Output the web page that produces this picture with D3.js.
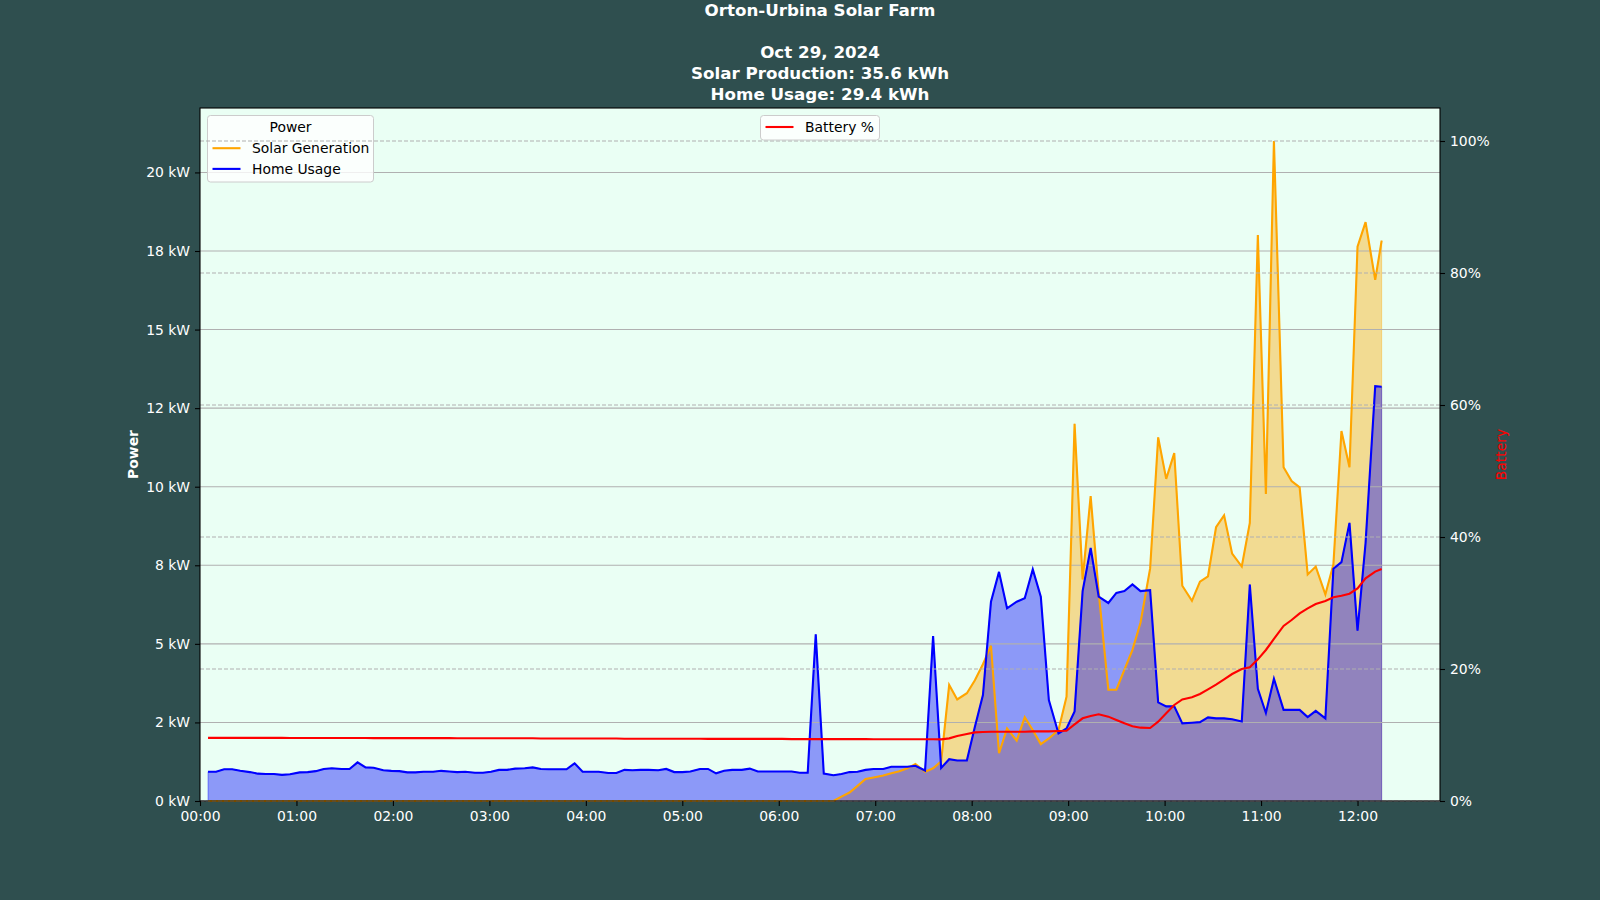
<!DOCTYPE html>
<html>
<head>
<meta charset="utf-8">
<script src="https://cdn.jsdelivr.net/npm/d3@7"></script>
<style>
  body { margin: 0; background: #2f4f4f; }
  text { font-family: "DejaVu Sans", sans-serif; }
</style>
</head>
<body>
<div id="chart"></div>
<script>
// minutes after midnight of each reading
var minutes = [5,10,15,20,25,31,36,41,46,51,56,62,67,72,77,82,88,93,98,103,
  108,114,119,124,129,134,139,145,150,155,160,165,171,176,181,186,191,196,202,207,
  212,217,222,228,233,238,243,248,254,259,264,269,274,279,285,290,295,300,305,311,
  316,321,326,331,337,342,347,352,357,362,368,373,378,383,388,394,399,404,409,414,
  419,425,430,435,440,445,451,456,461,466,471,477,482,487,492,497,502,508,513,518,
  523,528,534,539,544,549,554,559,565,570,575,580,585,591,596,601,606,611,617,622,
  627,632,637,642,648,653,658,663,668,674,679,684,689,694,700,705,710,715,720,725,
  731,735];

// kW
var solar = [0,0,0,0,0,0,0,0,0,0,0,0,0,0,0,0,0,0,0,0,
  0,0,0,0,0,0,0,0,0,0,0,0,0,0,0,0,0,0,0,0,
  0,0,0,0,0,0,0,0,0,0,0,0,0,0,0,0,0,0,0,0,
  0,0,0,0,0,0,0,0,0,0,0,0,0,0,0,0,
  0.14,0.27,0.48,0.70,0.75,0.81,0.88,0.95,1.04,1.18,
  0.93,1.04,1.26,3.69,3.23,3.43,3.84,4.35,4.94,1.52,
  2.31,1.92,2.67,2.26,1.81,1.99,2.26,3.32,12.0,7.05,
  9.70,6.64,3.54,3.54,4.18,4.81,5.67,7.40,11.57,10.25,
  11.07,6.85,6.37,6.98,7.15,8.71,9.09,7.87,7.46,8.85,
  18.01,9.77,21.0,10.62,10.18,9.98,7.21,7.46,6.57,7.53,
  11.77,10.62,17.64,18.42,16.58,17.83];

// kW
var home = [0.93,0.93,1.01,1.01,0.96,0.92,0.87,0.86,0.86,0.83,
  0.85,0.91,0.92,0.95,1.02,1.04,1.02,1.02,1.23,1.07,
  1.06,0.98,0.96,0.95,0.91,0.91,0.93,0.93,0.96,0.94,
  0.92,0.93,0.90,0.90,0.93,0.99,0.99,1.03,1.04,1.07,
  1.02,1.01,1.01,1.01,1.20,0.93,0.93,0.93,0.89,0.89,
  0.99,0.98,0.99,
  0.99,0.98,1.02,0.92,0.92,0.94,1.02,1.02,0.88,0.96,
  0.99,0.99,1.03,0.94,0.94,0.94,0.94,0.94,0.90,0.90,
  5.30,0.87,0.82,0.86,0.92,0.93,0.99,1.02,1.02,1.09,
  1.09,1.09,1.12,0.97,5.25,1.05,1.33,1.29,1.29,2.36,
  3.37,6.34,7.29,6.13,6.34,6.45,7.37,6.50,3.21,2.15,
  2.31,2.85,6.68,8.05,6.50,6.30,6.62,6.68,6.89,6.68,
  6.71,3.14,3.01,3.01,2.47,2.49,2.51,2.66,2.63,2.63,
  2.60,2.53,6.89,3.57,2.80,3.89,2.90,2.90,2.90,2.67,
  2.87,2.63,7.39,7.60,8.85,5.42,8.21,13.20,13.18];

// percent
var battery = [9.57,9.57,9.57,9.57,9.57,9.57,9.57,9.57,9.57,9.57,
  9.55,9.55,9.55,9.55,9.55,9.55,9.55,9.55,9.55,9.55,
  9.52,9.52,9.52,9.52,9.52,9.52,9.52,9.52,9.52,9.52,
  9.5,9.5,9.5,9.5,9.5,9.5,9.5,9.5,9.5,9.5,
  9.47,9.47,9.47,9.47,9.47,9.47,9.47,9.47,9.47,9.47,
  9.44,9.44,9.44,9.44,9.44,9.44,9.44,9.44,9.44,9.44,
  9.41,9.41,9.41,9.41,9.41,9.41,9.41,9.41,9.41,9.41,
  9.38,9.38,9.38,9.38,9.38,9.38,9.38,9.38,9.38,9.38,
  9.36,9.36,9.36,9.36,9.36,9.36,9.36,9.36,
  9.34,9.49,9.85,10.15,10.4,10.45,10.5,10.5,10.5,10.5,
  10.5,10.55,10.55,10.55,10.6,10.65,11.6,12.53,12.88,13.13,
  12.78,12.27,11.77,11.31,11.11,11.06,12.02,13.28,14.55,15.4,
  15.71,16.21,16.92,17.63,18.43,19.24,20.0,20.25,21.46,22.88,
  24.55,26.52,27.42,28.43,29.19,29.85,30.3,30.86,31.11,31.41,
  32.22,33.73,34.75,35.15];

var titleLines = ["Orton-Urbina Solar Farm", "", "Oct 29, 2024",
  "Solar Production: 35.6 kWh", "Home Usage: 29.4 kWh"];

var powerTicks = [0, 2.5, 5, 7.5, 10, 12.5, 15, 17.5, 20];
var powerLabels = ["0 kW","2 kW","5 kW","8 kW","10 kW","12 kW","15 kW","18 kW","20 kW"];
var batteryTicks = [0, 20, 40, 60, 80, 100];

var width = 1600, height = 900;
var margin = {left: 200, right: 160, top: 108, bottom: 99};
var plotW = width - margin.left - margin.right;
var plotH = height - margin.top - margin.bottom;

var day = new Date(2024, 9, 29);
function toDate(m) { return new Date(day.getTime() + m * 60000); }

var rows = minutes.map(function(m, i) {
  return {t: toDate(m), solar: solar[i], home: home[i], battery: battery[i]};
});

var x = d3.scaleTime()
  .domain([toDate(0), toDate(771.3)])
  .range([0, plotW]);
var y = d3.scaleLinear().domain([0, 22.05]).range([plotH, 0]);
var y2 = d3.scaleLinear().domain([0, 105]).range([plotH, 0]);

var svg = d3.select("#chart").append("svg")
  .attr("width", width)
  .attr("height", height);

svg.append("rect").attr("width", width).attr("height", height).attr("fill", "#2f4f4f");

// title
svg.append("g").selectAll("text")
  .data(titleLines)
  .enter().append("text")
  .attr("x", margin.left + plotW / 2)
  .attr("y", function(d, i) { return 16 + i * 21; })
  .attr("text-anchor", "middle")
  .attr("fill", "white")
  .style("font-size", "16.7px")
  .style("font-weight", "bold")
  .text(function(d) { return d; });

var g = svg.append("g").attr("transform", `translate(${margin.left},${margin.top})`);

g.append("rect").attr("width", plotW).attr("height", plotH).attr("fill", "#eafff4");

var solarArea = d3.area().x(d => x(d.t)).y0(y(0)).y1(d => y(d.solar));
var homeArea = d3.area().x(d => x(d.t)).y0(y(0)).y1(d => y(d.home));

g.append("path").datum(rows).attr("d", solarArea)
  .attr("fill", "rgba(255,165,0,0.4)").attr("stroke", "rgba(255,165,0,0.4)").attr("stroke-width", 1);
g.append("path").datum(rows).attr("d", homeArea)
  .attr("fill", "rgba(0,0,255,0.4)").attr("stroke", "rgba(0,0,255,0.4)").attr("stroke-width", 1);

// solid grid on power axis
g.append("g").selectAll("line")
  .data(powerTicks)
  .enter().append("line")
  .attr("x1", 0).attr("x2", plotW)
  .attr("y1", d => y(d)).attr("y2", d => y(d))
  .attr("stroke", "#b0b0b0").attr("stroke-width", 1.1);

var solarLine = d3.line().x(d => x(d.t)).y(d => y(d.solar));
var homeLine = d3.line().x(d => x(d.t)).y(d => y(d.home));
var batteryLine = d3.line().x(d => x(d.t)).y(d => y2(d.battery));

g.append("path").datum(rows).attr("d", solarLine)
  .attr("fill", "none").attr("stroke", "orange").attr("stroke-width", 2.1);
g.append("path").datum(rows).attr("d", homeLine)
  .attr("fill", "none").attr("stroke", "blue").attr("stroke-width", 2.1);

// power legend
var leg = g.append("g").attr("transform", `translate(${207.5 - margin.left},${115.5 - margin.top})`);
leg.append("rect").attr("width", 166).attr("height", 66.5).attr("rx", 3)
  .attr("fill", "white").attr("fill-opacity", 0.8).attr("stroke", "#cccccc");
leg.append("text").attr("x", 83).attr("y", 12).attr("dy", "0.35em")
  .attr("text-anchor", "middle").style("font-size", "13.9px").text("Power");
[["Solar Generation", "orange"], ["Home Usage", "blue"]].forEach(function(e, i) {
  var yy = 32.7 + i * 20.7;
  leg.append("line").attr("x1", 5).attr("x2", 33).attr("y1", yy).attr("y2", yy)
    .attr("stroke", e[1]).attr("stroke-width", 2.1);
  leg.append("text").attr("x", 44.5).attr("y", yy).attr("dy", "0.35em")
    .style("font-size", "13.9px").text(e[0]);
});

// dashed grid on battery axis
g.append("g").selectAll("line")
  .data(batteryTicks)
  .enter().append("line")
  .attr("x1", 0).attr("x2", plotW)
  .attr("y1", d => y2(d)).attr("y2", d => y2(d))
  .attr("stroke", "#b0b0b0").attr("stroke-width", 1.1)
  .attr("stroke-dasharray", "4,2");

g.append("path").datum(rows).attr("d", batteryLine)
  .attr("fill", "none").attr("stroke", "red").attr("stroke-width", 2.1);

// battery legend
var leg2 = g.append("g").attr("transform", `translate(${760.5 - margin.left},${115.5 - margin.top})`);
leg2.append("rect").attr("width", 119).attr("height", 24.5).attr("rx", 3)
  .attr("fill", "white").attr("fill-opacity", 0.8).attr("stroke", "#cccccc");
leg2.append("line").attr("x1", 5).attr("x2", 33).attr("y1", 11.5).attr("y2", 11.5)
  .attr("stroke", "red").attr("stroke-width", 2.1);
leg2.append("text").attr("x", 44.5).attr("y", 11.5).attr("dy", "0.35em")
  .style("font-size", "13.9px").text("Battery %");

// frame
g.append("rect").attr("width", plotW).attr("height", plotH)
  .attr("fill", "none").attr("stroke", "black").attr("stroke-width", 1.1);

// axes
var xAxis = d3.axisBottom(x).ticks(d3.timeHour.every(1)).tickFormat(d3.timeFormat("%H:%M"))
  .tickSize(5).tickPadding(5);
var yAxis = d3.axisLeft(y).tickValues(powerTicks)
  .tickFormat((d, i) => powerLabels[i]).tickSize(5).tickPadding(5);
var y2Axis = d3.axisRight(y2).tickValues(batteryTicks)
  .tickFormat(d => d + "%").tickSize(5).tickPadding(5);

function styleAxis(sel) {
  sel.select(".domain").remove();
  sel.selectAll(".tick line").attr("stroke", "black").attr("stroke-width", 1.1);
  sel.selectAll(".tick text").attr("fill", "white")
    .style("font-family", "DejaVu Sans").style("font-size", "13.9px");
}

g.append("g").attr("transform", `translate(0,${plotH})`).call(xAxis).call(styleAxis);
g.append("g").call(yAxis).call(styleAxis);
g.append("g").attr("transform", `translate(${plotW},0)`).call(y2Axis).call(styleAxis);

// axis titles
svg.append("text")
  .attr("transform", `translate(133,${margin.top + plotH / 2}) rotate(-90)`)
  .attr("text-anchor", "middle").attr("dy", "0.35em")
  .attr("fill", "white").style("font-size", "13.9px").style("font-weight", "bold")
  .text("Power");
svg.append("text")
  .attr("transform", `translate(1501,${margin.top + plotH / 2}) rotate(-90)`)
  .attr("text-anchor", "middle").attr("dy", "0.35em")
  .attr("fill", "red").style("font-size", "13.9px")
  .text("Battery");
</script>
</body>
</html>
